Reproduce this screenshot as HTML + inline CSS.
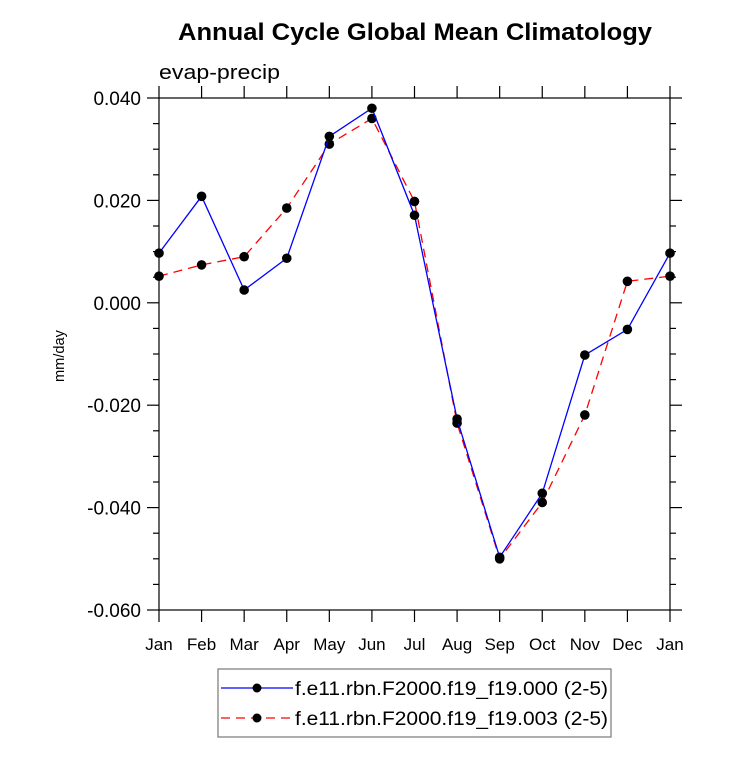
<!DOCTYPE html>
<html><head><meta charset="utf-8"><style>
body{margin:0;background:#fff;}
svg text{font-family:"Liberation Sans",Arial,sans-serif;}
</style></head><body>
<svg width="733" height="758" xmlns="http://www.w3.org/2000/svg">
<text x="178" y="40" textLength="474" lengthAdjust="spacingAndGlyphs" font-size="24" font-weight="bold">Annual Cycle Global Mean Climatology</text>
<text x="159" y="79" textLength="121" lengthAdjust="spacingAndGlyphs" font-size="20">evap-precip</text>
<text transform="translate(64,356) rotate(-90)" text-anchor="middle" font-size="15" textLength="52" lengthAdjust="spacingAndGlyphs">mm/day</text>
<rect x="159" y="98" width="511" height="512" fill="none" stroke="#000" stroke-width="1.2"/>
<g id="axes"></g>
<g id="series"></g>
<g>
<rect x="218" y="669" width="393" height="68" fill="none" stroke="#777" stroke-width="1.2"/>
<g>
<line x1="221" y1="688" x2="293" y2="688" stroke="#0000ff" stroke-width="1.3"/>
<circle cx="257" cy="688" r="4.5" fill="#000"/>
<text x="295" y="695" font-size="19" textLength="313" lengthAdjust="spacingAndGlyphs">f.e11.rbn.F2000.f19_f19.000 (2-5)</text>
</g>
<g>
<line x1="221" y1="718" x2="293" y2="718" stroke="#ff0000" stroke-width="1.3" stroke-dasharray="9,6"/>
<circle cx="257" cy="718" r="4.5" fill="#000"/>
<text x="295" y="725" font-size="19" textLength="313" lengthAdjust="spacingAndGlyphs">f.e11.rbn.F2000.f19_f19.003 (2-5)</text>
</g>
</g>
</svg>
<script>
const months=["Jan","Feb","Mar","Apr","May","Jun","Jul","Aug","Sep","Oct","Nov","Dec","Jan"];
const series000=[0.0097,0.0208,0.0025,0.0087,0.0325,0.0380,0.0171,-0.0227,-0.0497,-0.0372,-0.0102,-0.0052,0.0097];
const series003=[0.0052,0.0074,0.0090,0.0185,0.0310,0.0360,0.0198,-0.0235,-0.0500,-0.0390,-0.0219,0.0042,0.0052];
const yTicks=[0.04,0.02,0,-0.02,-0.04,-0.06];
const yTickLabels=["0.040","0.020","0.000","-0.020","-0.040","-0.060"];
const NS="http://www.w3.org/2000/svg";
const X0=159,X1=670,Y0=98,Y1=610,YMAX=0.04,YMIN=-0.06;
function xs(i){return X0+(X1-X0)*i/(months.length-1);}
function ys(v){return Y0+(YMAX-v)/(YMAX-YMIN)*(Y1-Y0);}
function mk(tag,at,parent){const e=document.createElementNS(NS,tag);for(const k in at)e.setAttribute(k,at[k]);parent.appendChild(e);return e;}
const ax=document.getElementById('axes');
months.forEach((m,i)=>{
 const x=xs(i);
 const t=mk('line',{x1:x,x2:x,y1:Y1,y2:Y1+12,stroke:'#000','stroke-width':1.2},ax);
 
 
 const t2=mk('line',{x1:x,x2:x,y1:Y0,y2:Y0-12,stroke:'#000','stroke-width':1.2},ax);
 
 
 const l=mk('text',{x:x,y:650,'text-anchor':'middle','font-size':17},ax);
 l.textContent=m;
 
 
});
for(let v=YMIN;v<=YMAX+1e-9;v+=0.005){
 const y=ys(v);const major=Math.abs(Math.round(v/0.02)*0.02-v)<1e-9;const len=major?12:6;
 const a=mk('line',{x1:X0-len,x2:X0,y1:y,y2:y,stroke:'#000','stroke-width':1.2},ax);
 
 
 const b=mk('line',{x1:X1,x2:X1+len,y1:y,y2:y,stroke:'#000','stroke-width':1.2},ax);
 
 
}
yTicks.forEach((v,i)=>{
 const l=mk('text',{x:141,y:ys(v)+7,'text-anchor':'end','font-size':19},ax);
 l.textContent=yTickLabels[i];
 
 
});
const sg=document.getElementById('series');
function draw(vals,color,dash,name){
 const pts=vals.map((v,i)=>xs(i)+','+ys(v)).join(' ');
 const p=mk('polyline',{points:pts,fill:'none',stroke:color,'stroke-width':1.3},sg);
 if(dash)p.setAttribute('stroke-dasharray',dash);
 
 
 vals.forEach((v,i)=>{
  const c=mk('circle',{cx:xs(i),cy:ys(v),r:4.8,fill:'#000'},sg);
  
  
 });
}
draw(series003,'#ff0000','9,6','series-003');
draw(series000,'#0000ff',null,'series-000');
</script>
</body></html>
